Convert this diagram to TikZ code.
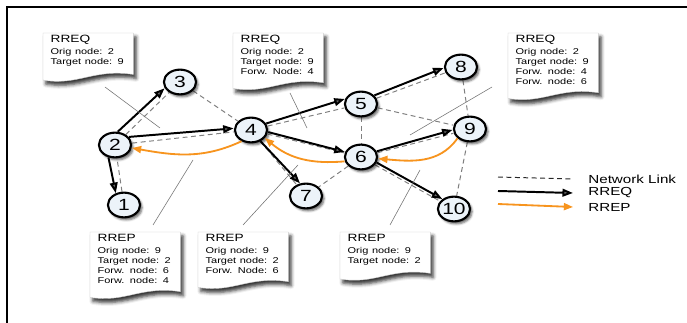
\documentclass[tikz,border=0pt]{standalone}
\usepackage{fontspec}
\setmainfont{Liberation Sans}
\usetikzlibrary{arrows.meta,shadows.blur,backgrounds}

\definecolor{knotenfill}{RGB}{236,243,249}
\definecolor{rrepfarbe}{RGB}{247,148,30}

% Zettel mit welliger Unterkante hinter eine Notiz legen
\newcommand{\zettel}[1]{%
  \draw[papier] (#1.north west) -- (#1.north east) -- ([yshift=-4pt]#1.south east)
    .. controls +(-40,6) and +(35,-6) .. ([yshift=-8pt]#1.south west) -- cycle;}
% Kopfzeile einer Notiz
\newcommand{\kopf}[1]{{\fontsize{7.5}{9}\selectfont #1}\\[1.4pt]}

\begin{document}
\begin{tikzpicture}[x=0.025cm,y=0.025cm,
    breit/.style={xscale=1.3,transform shape},
    knoten/.style={circle,draw,line width=1.5pt,fill=knotenfill,breit,
      minimum size=17.6pt,inner sep=0pt,
      font=\fontsize{11.5}{12}\selectfont,
      blur shadow={shadow xshift=1.5pt,shadow yshift=-1.8pt,
        shadow blur radius=1.5pt,shadow opacity=60}},
    netz/.style={gray,line width=0.7pt,dash pattern=on 3.5pt off 2.5pt},
    rreq/.style={line width=1.4pt,-{Triangle[length=7.5pt,width=5.5pt]}},
    rrep/.style={rrepfarbe,line width=1.3pt,-{Triangle[length=6.5pt,width=5pt]}},
    zeiger/.style={gray!90!black,line width=0.4pt},
    notiz/.style={anchor=north west,breit,text width=41pt,inner xsep=4pt,
      inner ysep=1.5pt,align=left,font=\fontsize{6}{7.1}\selectfont},
    papier/.style={fill=white,draw=gray!40,line width=0.3pt,
      blur shadow={shadow xshift=2pt,shadow yshift=-2.8pt,
        shadow blur radius=2.5pt,shadow opacity=80}},
    legende/.style={anchor=west,breit,inner sep=0pt,font=\fontsize{8.3}{9.5}\selectfont}]
  \useasboundingbox (0,0) rectangle (687,323);
  % Rahmen oben und links
  \draw[line width=2.1pt] (7,0) -- (7,316) -- (687,316);

  % Knoten des Netzes
  \foreach \n/\x/\y in {1/124/118, 2/115/178, 3/180/241, 4/251/193, 5/361/219,
                        6/361/166, 7/306/127, 8/461/256, 9/470/194, 10/454/114}
    \node[knoten] (n\n) at (\x,\y) {\n};

  % Notizen
  \node[notiz] (reqA) at (43,290) {\kopf{RREQ}Orig node: 2\\Target node: 9};
  \node[notiz] (reqB) at (233,290) {\kopf{RREQ}Orig node: 2\\Target node: 9\\Forw. Node: 4};
  \node[notiz] (reqC) at (508,290) {\kopf{RREQ}Orig node: 2\\Target node: 9\\Forw. node: 4\\Forw. node: 6};
  \node[notiz] (repA) at (90,91) {\kopf{RREP}Orig node: 9\\Target node: 2\\Forw. node: 6\\Forw. node: 4};
  \node[notiz] (repB) at (198,91) {\kopf{RREP}Orig node: 9\\Target node: 2\\Forw. Node: 6};
  \node[notiz] (repC) at (340,91) {\kopf{RREP}Orig node: 9\\Target node: 2};

  \begin{pgfonlayer}{background}
    % Netzwerk-Links
    \foreach \a/\b in {1/2, 2/3, 2/4, 3/4, 4/5, 4/6, 4/7, 5/6, 5/8, 5/9,
                       6/7, 6/9, 6/10, 8/9, 9/10}
      \draw[netz] (n\a) -- (n\b);
    \foreach \z in {reqA,reqB,reqC,repA,repB,repC}
      \zettel{\z};
  \end{pgfonlayer}

  % RREQ
  \foreach \a/\wa/\b/\wb in {2/81/3/208, 2/37/4/173, 2/248/1/118, 4/29/5/158,
                             4/351/6/158, 4/303/7/110, 5/40/8/184, 6/25/9/184,
                             6/335/10/132}
    \draw[rreq] (n\a.\wa) -- (n\b.\wb);
  % RREP
  \draw[rrep] (n9.224) to[out=235,in=-5] (n6.353);
  \draw[rrep] (n6.199) to[out=185,in=-40] (n4.323);
  \draw[rrep] (n4.237) to[out=205,in=-10] (n2.347);

  % Zeiger von den Notizen
  \foreach \z/\xa/\ya/\xb/\yb in {A/105/236/160/195, B/290/230/307/195,
                                  C/492/236/410/188, D/153/98/193/163,
                                  E/243/98/298/158, F/390/98/420/153} {
    \coordinate (z\z1) at (\xa,\ya);
    \coordinate (z\z2) at (\xb,\yb);
    \draw[zeiger] (z\z1) -- (z\z2);
  }

  % Legende
  \node[legende] (lgNetz) at (588,144) {Network Link};
  \node[legende] (lgReq) at (588,130) {RREQ};
  \node[legende] (lgRep) at (588,116) {RREP};
  \coordinate (lgNetzA) at (498,146);
  \coordinate (lgReqA) at (498,132);
  \coordinate (lgRepA) at (498,119);
  \draw[netz,gray!30!black] (lgNetzA) -- (lgNetz.west -| 573,0);
  \draw[rreq] (lgReqA) -- (lgReq.west -| 573,0);
  \draw[rrep] (lgRepA) -- (lgRep.west -| 573,0);
\end{tikzpicture}
\end{document}
